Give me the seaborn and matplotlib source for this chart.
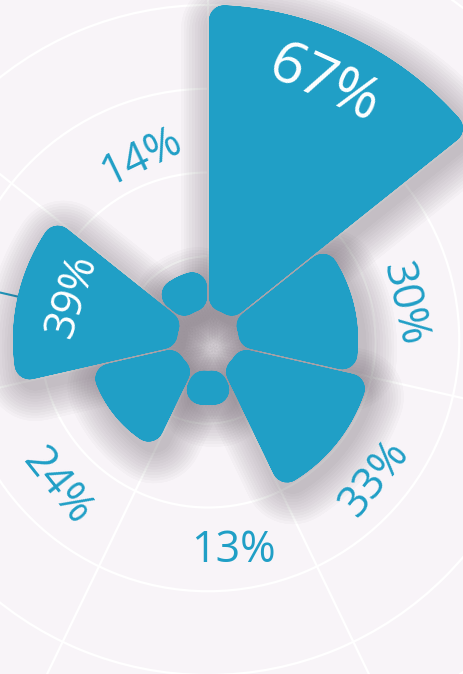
import numpy as np
import matplotlib
matplotlib.use("Agg")
import matplotlib.pyplot as plt
import matplotlib.patheffects as pe
from matplotlib.patches import Polygon, PathPatch
from matplotlib.path import Path
import seaborn as sns

# values clockwise from 12 o'clock
values = [67, 30, 33, 13, 24, 39, 14]
labels = ["67%", "30%", "33%", "13%", "24%", "39%", "14%"]

BLUE = "#209fc6"
BG = "#f8f4f8"

sns.set_style("white")
plt.rcParams["font.family"] = ["Open Sans", "DejaVu Sans"]

W, H = 464, 674
fig = plt.figure(figsize=(W / 100, H / 100), dpi=100, facecolor=BG)

# chart centre (px from top-left) and radial scale
cx, cy = 208, 340
ppu = 5.0           # pixels per % unit
rmax = 100
R = rmax * ppu
ax = fig.add_axes([(cx - R) / W, (H - cy - R) / H, 2 * R / W, 2 * R / H],
                  projection="polar")
ax.set_theta_zero_location("N")
ax.set_theta_direction(-1)
ax.set_ylim(0, rmax)
ax.set_facecolor(BG)
ax.spines["polar"].set_visible(False)

n = len(values)
step = 2 * np.pi / n
starts = np.arange(n) * step
centers = starts + step / 2

# grid: rings every quarter of the max, spokes on bar boundaries
ring = max(values) / 4
ax.set_xticks(starts)
ax.set_xticklabels([])
ax.set_yticks(np.arange(1, 6) * ring)
ax.set_yticklabels([])
ax.tick_params(length=0)
ax.grid(color="white", linewidth=1.6)

rad = 3.0      # corner radius (units)
pad = 0.2
hole = 6.2

# keep the spokes out of the hole in the middle
tt = np.linspace(0, 2 * np.pi, 200)
ax.fill_between(tt, 0, hole * 1.8, color=BG, linewidth=0, zorder=1.8)


def npts(length_px):
    return max(2, int(np.ceil(length_px / 3)))


def eroded_bar(t0, t1, r_in, r_out):
    # sector shrunk by the corner radius; a round stroke grows it back
    d = rad + pad
    half = (t1 - t0) / 2
    r_lo = max(r_in + rad, d / np.sin(half) + 1e-4)
    r_hi = max(r_out - rad, r_lo + 0.05)
    rs = np.linspace(r_lo, r_hi, npts((r_hi - r_lo) * ppu))
    left = t0 + np.arcsin(d / rs)
    right = t1 - np.arcsin(d / rs)
    k_out = npts(r_hi * ppu * (right[-1] - left[-1]))
    k_in = npts(r_lo * ppu * (right[0] - left[0]))
    th = np.concatenate([left, np.linspace(left[-1], right[-1], k_out)[1:-1],
                         right[::-1], np.linspace(right[0], left[0], k_in)[1:-1]])
    rr = np.concatenate([rs, np.full(k_out - 2, r_hi), rs[::-1], np.full(k_in - 2, r_lo)])
    return np.column_stack([th, rr])


def segments(verts):
    # every edge as its own sub-path, so wide round strokes never leave holes
    closed = np.vstack([verts, verts[:1]])
    pts = np.empty((2 * len(verts), 2))
    pts[0::2] = closed[:-1]
    pts[1::2] = closed[1:]
    codes = np.tile([Path.MOVETO, Path.LINETO], len(verts))
    return Path(pts, codes)


lw = 2 * rad * ppu * 72 / 100
shade = "#3a2c3a"
shadow = [pe.SimplePatchShadow(offset=(4, -6), shadow_rgbFace=shade, alpha=0.022,
                               linewidth=lw + w, foreground=shade,
                               capstyle="round")
          for w in range(4, 52, 4)]

for t0, v in zip(starts, values):
    verts = eroded_bar(t0, t0 + step, hole, v)
    # soft drop shadow under every bar
    shd = PathPatch(segments(verts), facecolor="none", edgecolor="none",
                    linewidth=lw, transform=ax.transData, zorder=2)
    shd.set_path_effects(shadow)
    ax.add_patch(shd)
    ax.add_patch(PathPatch(segments(verts), facecolor="none", edgecolor=BLUE,
                           linewidth=lw, capstyle="round",
                           transform=ax.transData, zorder=3))
    ax.add_patch(Polygon(verts, closed=True, facecolor=BLUE, linewidth=0,
                         transform=ax.transData, zorder=3))

# leader tick on the left bar
i = labels.index("39%")
ax.plot([centers[i], centers[i]], [values[i], values[i] + 4.5], color=BLUE,
        linewidth=1.5, zorder=1.9)

# label placement: angular nudge (deg) and radius (units)
place = {"67%": (-1.3, 56.0), "30%": (2.4, 39.8), "33%": (1.1, 43.4),
         "13%": (-6.9, 42.4), "24%": (-5.8, 42.2), "39%": (4.9, 28.6),
         "14%": (5.5, 38.8)}

for c, v, lab in zip(centers, values, labels):
    deg = np.degrees(c)
    rot = -deg + (180 if 90 < deg < 270 else 0)
    shift, r = place[lab]
    inside = r < v
    col = "white" if inside else BLUE
    fs = max(31, 0.63 * v) if inside else 31
    ax.text(c + np.radians(shift), r, lab, rotation=rot + (-shift if inside else 0),
            rotation_mode="anchor", ha="center", va="center", fontsize=fs,
            color=col, zorder=10)

fig.savefig("out.png", dpi=100, facecolor=BG)
